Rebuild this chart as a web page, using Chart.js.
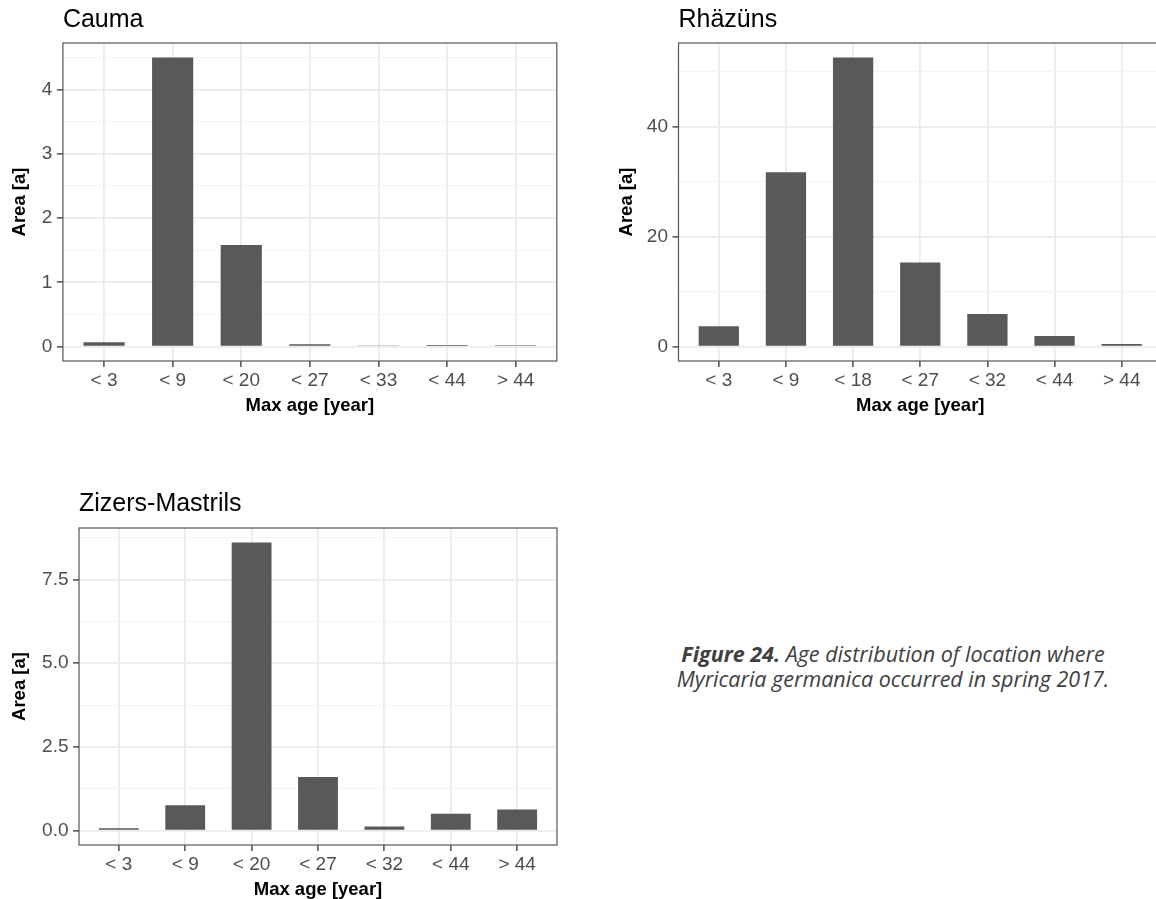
<!DOCTYPE html>
<html>
<head>
<meta charset="utf-8">
<title>Figure 24</title>
<script src="https://cdn.jsdelivr.net/npm/chart.js@4.4.1/dist/chart.umd.min.js"></script>
<style>
  html, body { margin: 0; padding: 0; background: #fff; overflow: hidden; }
  #page { position: relative; width: 1156px; height: 899px; overflow: hidden; }
  canvas { position: absolute; }
  #cauma { left: 0; top: 0; }
  #rhazuns { left: 600px; top: 0; }
  #zizers { left: 0; top: 484px; }
  #caption {
    position: absolute; left: 640px; width: 506px; top: 641px;
    text-align: center; white-space: nowrap;
    font-family: 'Open Sans', Lato, sans-serif; font-style: italic;
    font-size: 21.5px; line-height: 25px; color: #404040;
  }
  #caption b { font-weight: bold; }
</style>
</head>
<body>
<div id="page">
  <canvas id="cauma" width="570" height="420"></canvas>
  <canvas id="rhazuns" width="580" height="420"></canvas>
  <canvas id="zizers" width="570" height="420"></canvas>
  <div id="caption"><b>Figure 24.</b> Age distribution of location where<br>Myricaria germanica occurred in spring 2017.</div>
</div>
<script>
// Cauma
const caumaLabels = ['< 3', '< 9', '< 20', '< 27', '< 33', '< 44', '> 44'];
const caumaValues = [0.067, 4.5, 1.58, 0.035, 0.008, 0.025, 0.02];
const caumaMajor = [0, 1, 2, 3, 4];
const caumaMinor = [0.5, 1.5, 2.5, 3.5, 4.5];

// Rhäzüns
const rhazunsLabels = ['< 3', '< 9', '< 18', '< 27', '< 32', '< 44', '> 44'];
const rhazunsValues = [3.7, 31.7, 52.6, 15.3, 5.9, 1.9, 0.45];
const rhazunsMajor = [0, 20, 40];
const rhazunsMinor = [10, 30, 50];

// Zizers-Mastrils
const zizersLabels = ['< 3', '< 9', '< 20', '< 27', '< 32', '< 44', '> 44'];
const zizersValues = [0.07, 0.76, 8.61, 1.6, 0.12, 0.5, 0.63];
const zizersMajor = [0, 2.5, 5, 7.5];
const zizersMinor = [1.25, 3.75, 6.25, 8.75];

Chart.defaults.font.family = "'Liberation Sans', Arial, Helvetica, sans-serif";
Chart.defaults.animation = false;

// ggplot-like panel border on all four sides
const panelBorder = {
  id: 'panelBorder',
  afterDatasetsDraw(chart) {
    const { ctx, chartArea: a } = chart;
    ctx.save();
    ctx.strokeStyle = '#555555';
    ctx.lineWidth = 1.2;
    ctx.strokeRect(a.left, a.top, a.right - a.left, a.bottom - a.top);
    ctx.restore();
  },
};

function drawPanel(id, title, labels, values, major, minor, digits, g) {
  const peak = Math.max(...values);
  const yTicks = major.concat(minor).sort((a, b) => a - b);
  const isMajor = (v) => major.includes(v);

  // eslint-disable-next-line no-undef
  return new Chart(document.getElementById(id), {
    type: 'bar',
    data: {
      datasets: [{
        data: values.map((v, i) => ({ x: i, y: v })),
        backgroundColor: '#595959',
        borderWidth: 0,
        barPercentage: 0.6,
        categoryPercentage: 1,
      }],
    },
    options: {
      responsive: false,
      layout: { padding: { left: 0, right: g.padRight, top: 0, bottom: 0 } },
      plugins: {
        legend: { display: false },
        tooltip: { enabled: false },
        title: {
          display: true,
          text: title,
          align: 'start',
          fullSize: false,
          color: '#000000',
          font: { size: 25, weight: 'normal', lineHeight: 1.2 },
          padding: { top: 5.6, bottom: g.titleBottom },
        },
      },
      scales: {
        x: {
          type: 'linear',
          min: -0.6,
          max: labels.length - 0.4,
          offset: false,
          afterBuildTicks: (scale) => {
            scale.ticks = labels.map((_, i) => ({ value: i }));
          },
          afterFit: (scale) => {
            scale.height = 59;
          },
          ticks: {
            autoSkip: false,
            maxRotation: 0,
            padding: 2,
            color: '#4D4D4D',
            font: { size: 19, lineHeight: 1.2 },
            callback: (v) => labels[v] ?? '',
          },
          grid: {
            offset: false,
            color: '#EBEBEB',
            lineWidth: 1.8,
            tickLength: 6,
            tickWidth: 1.3,
            tickColor: '#333333',
          },
          border: { display: false },
          title: {
            display: true,
            text: 'Max age [year]',
            color: '#000000',
            font: { size: 18.5, weight: 'bold', lineHeight: 1.2 },
            padding: { top: 3, bottom: 3.4 },
          },
        },
        y: {
          min: -0.05 * peak,
          max: 1.05 * peak,
          afterBuildTicks: (scale) => {
            scale.ticks = yTicks.map((v) => ({ value: v }));
          },
          afterFit: (scale) => {
            scale.width = g.axisWidth;
          },
          ticks: {
            autoSkip: false,
            padding: 4.5,
            color: '#4D4D4D',
            font: { size: 19, lineHeight: 1.2 },
            callback: (v) => (isMajor(v) ? v.toFixed(digits) : ''),
          },
          grid: {
            color: (c) => (c.tick && isMajor(c.tick.value) ? '#EBEBEB' : '#F4F4F4'),
            lineWidth: (c) => (c.tick && isMajor(c.tick.value) ? 1.8 : 1),
            tickLength: 6,
            tickWidth: 1.3,
            tickColor: (c) => (c.tick && isMajor(c.tick.value) ? '#333333' : 'rgba(0,0,0,0)'),
          },
          border: { display: false },
          title: {
            display: true,
            text: 'Area [a]',
            color: '#000000',
            font: { size: 18.5, weight: 'bold', lineHeight: 1.2 },
            padding: { top: g.yTitlePad, bottom: 0 },
          },
        },
      },
    },
    plugins: [panelBorder],
  });
}

drawPanel('cauma', 'Cauma', caumaLabels, caumaValues, caumaMajor, caumaMinor, 0,
  { axisWidth: 62.9, padRight: 13.2, titleBottom: 7.4, yTitlePad: 9.2 });
drawPanel('rhazuns', 'Rhäzüns', rhazunsLabels, rhazunsValues, rhazunsMajor, rhazunsMinor, 0,
  { axisWidth: 78.5, padRight: 18, titleBottom: 7.4, yTitlePad: 15.7 });
drawPanel('zizers', 'Zizers-Mastrils', zizersLabels, zizersValues, zizersMajor, zizersMinor, 1,
  { axisWidth: 79, padRight: 13, titleBottom: 8.4, yTitlePad: 9.2 });
</script>
</body>
</html>
